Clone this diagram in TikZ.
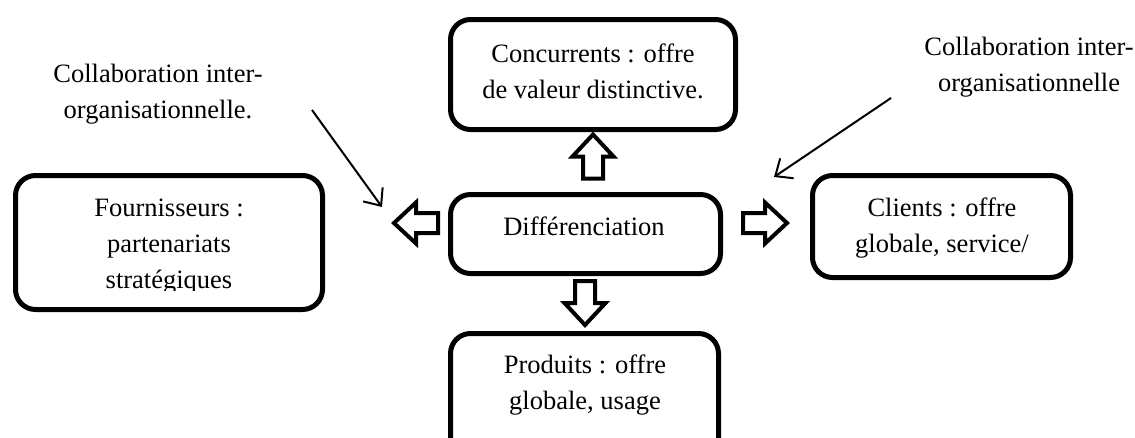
\documentclass[tikz,border=0pt]{standalone}
\usepackage{fontspec}
\setmainfont{Liberation Serif}
\usetikzlibrary{arrows.meta}
\tikzset{
  box/.style={draw, line width=5pt, rounded corners=20pt, fill=none, inner sep=0pt},
  txt/.style={align=center, inner sep=0pt, font=\fontsize{26.5}{36}\selectfont},
  blk/.style={draw, line width=4pt, fill=white, line join=miter},
  thin/.style={line width=2pt, -{Straight Barb[length=14pt,width=24pt,line width=2pt]}}
}
\newcommand{\blkarrow}[3]{%
  \draw[blk, shift={(#1,#2)}, rotate=#3]
    (-22,-10) -- (0,-10) -- (0,-20.5) -- (22,0) -- (0,20.5) -- (0,10) -- (-22,10) -- cycle;}
\begin{document}
\begin{tikzpicture}[x=1pt, y=-1pt]
\useasboundingbox (0,0) rectangle (1135,437);
\clip (0,0) rectangle (1135,437);

% boxes
\node[box, minimum width=285pt, minimum height=110pt] (conc) at (593,74.5) {};
\node[box, minimum width=270pt, minimum height=79pt] (diff) at (585.5,234) {};
\node[box, minimum width=307pt, minimum height=134pt] (four) at (169,242.5) {};
\node[box, minimum width=258pt, minimum height=102pt] (cli) at (941.5,226.5) {};
\node[box, minimum width=268pt, minimum height=133pt] (prod) at (584.5,400) {};

% texts
\node[txt] (concT) at (593,71) {Concurrents : offre\\de valeur distinctive.};
\node[txt] (diffT) at (584,226) {Différenciation};
\begin{scope}
  \clip (15,170) rectangle (323,290);
  \node[txt] (fourT) at (169,247) {Fournisseurs :\\partenariats\\stratégiques};
\end{scope}
\node[txt] (cliT) at (942,228.5) {Clients : offre\\globale, service/};
\node[txt] (prodT) at (585,385.5) {Produits : offre\\globale, usage};
\node[txt] (collL) at (158,94.5) {Collaboration inter-\\organisationnelle.};
\node[txt] (collR) at (1029,67.5) {Collaboration inter-\\organisationnelle};

% block arrows
\blkarrow{593}{156.5}{90}
\blkarrow{585}{303}{-90}
\blkarrow{416}{223}{180}
\blkarrow{765}{223}{0}

% thin arrows
\coordinate (aL1) at (312,110);
\coordinate (aL2) at (382,207);
\coordinate (aR1) at (891,98);
\coordinate (aR2) at (774,177);
\draw[thin] (aL1) -- (aL2);
\draw[thin] (aR1) -- (aR2);
\end{tikzpicture}
\end{document}
